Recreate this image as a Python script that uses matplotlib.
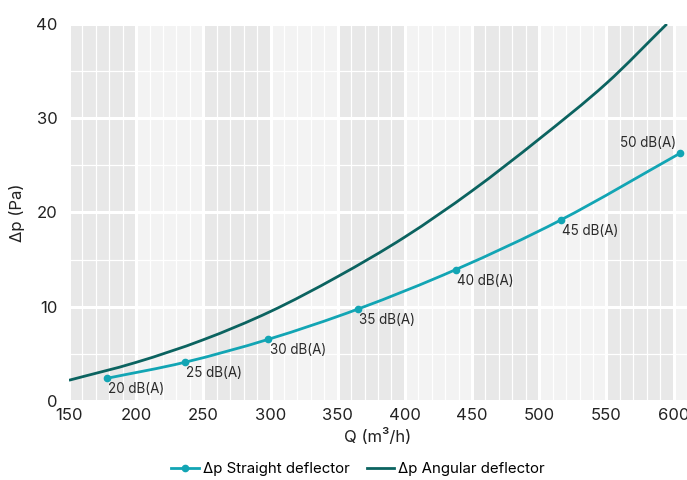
import numpy as np
import matplotlib
matplotlib.use("Agg")
import matplotlib.pyplot as plt
from matplotlib.path import Path
from matplotlib.patches import PathPatch
from matplotlib.lines import Line2D

plt.rcParams["font.family"] = ["Inter", "DejaVu Sans"]

# straight deflector: measured points with noise level labels
straight_q = [178, 236, 298.5, 365, 438, 516, 605]
straight_dp = [2.4, 4.1, 6.55, 9.75, 13.95, 19.2, 26.3]
straight_labels = ["20 dB(A)", "25 dB(A)", "30 dB(A)", "35 dB(A)",
                   "40 dB(A)", "45 dB(A)", "50 dB(A)"]

# angular deflector curve
angular_q = [150, 200, 250, 300, 350, 400, 450, 500, 550, 595]
angular_dp = [2.2, 4.1, 6.5, 9.5, 13.2, 17.4, 22.3, 27.8, 33.7, 40.0]

C_STRAIGHT = "#12a5b4"
C_ANGULAR = "#0b6360"
BAND_DARK = "#e8e8e8"
BAND_LIGHT = "#f3f3f3"


def smooth_path(x, y):
    """Cubic Hermite through the points, written as Bezier segments."""
    x = np.asarray(x, float)
    y = np.asarray(y, float)
    n = len(x)
    m = np.empty(n)
    m[0] = (y[1] - y[0]) / (x[1] - x[0])
    m[-1] = (y[-1] - y[-2]) / (x[-1] - x[-2])
    for i in range(1, n - 1):
        m[i] = (y[i + 1] - y[i - 1]) / (x[i + 1] - x[i - 1])
    verts = [(x[0], y[0])]
    codes = [Path.MOVETO]
    for i in range(n - 1):
        dx = (x[i + 1] - x[i]) / 3
        verts += [(x[i] + dx, y[i] + m[i] * dx),
                  (x[i + 1] - dx, y[i + 1] - m[i + 1] * dx),
                  (x[i + 1], y[i + 1])]
        codes += [Path.CURVE4] * 3
    return Path(verts, codes)


fig = plt.figure(figsize=(6.87, 4.80), dpi=100)
ax = fig.add_axes([0.1004, 0.1646, 0.8996, 0.7854])
ax.set_xlim(150, 610)
ax.set_ylim(0, 40)

# alternating vertical bands every 50 m3/h
for i, left in enumerate(range(150, 650, 50)):
    ax.axvspan(left, left + 50, color=BAND_DARK if i % 2 == 0 else BAND_LIGHT,
               lw=0, zorder=0)

ax.set_xticks(range(150, 601, 50))
ax.set_yticks(range(0, 41, 10))
ax.set_xticks(range(150, 611, 10), minor=True)
ax.set_yticks(range(0, 41, 5), minor=True)
ax.grid(which="major", color="white", lw=2.2, zorder=1)
ax.grid(which="minor", color="white", lw=0.9, zorder=1)
ax.set_axisbelow(True)
for s in ax.spines.values():
    s.set_visible(False)
ax.tick_params(which="both", length=0, labelsize=12, colors="#222222", pad=5)
ax.tick_params(axis="y", pad=8)

ax.add_patch(PathPatch(smooth_path(angular_q, angular_dp), fc="none",
                       ec=C_ANGULAR, lw=2, zorder=3, clip_on=True))
ax.add_patch(PathPatch(smooth_path(straight_q, straight_dp), fc="none",
                       ec=C_STRAIGHT, lw=2, zorder=4, clip_on=True))
ax.plot(straight_q, straight_dp, ls="none", marker="o", ms=4.5,
        color=C_STRAIGHT, zorder=5, clip_on=False)

for i, (q, dp, lab) in enumerate(zip(straight_q, straight_dp, straight_labels)):
    if i == len(straight_q) - 1:
        ax.annotate(lab, (q, dp), xytext=(-3, 7), textcoords="offset points",
                    ha="right", va="center", fontsize=9.7, color="#2a2a2a")
    else:
        ax.annotate(lab, (q, dp), xytext=(1, -8), textcoords="offset points",
                    ha="left", va="center", fontsize=9.7, color="#2a2a2a")

ax.set_xlabel("Q (m³/h)", fontsize=12, color="#222222", labelpad=4)
ax.set_ylabel("Δp (Pa)", fontsize=12, color="#222222", labelpad=8)

handles = [
    Line2D([], [], color=C_STRAIGHT, lw=2, marker="o", ms=4.5),
    Line2D([], [], color=C_ANGULAR, lw=2),
]
fig.legend(handles, ["Δp Straight deflector", "Δp Angular deflector"],
           loc="center", bbox_to_anchor=(0.521, 0.022), ncol=2, frameon=False,
           fontsize=10.8, handlelength=1.85, handletextpad=0.25,
           columnspacing=1.15)

fig.savefig("out.png", dpi=100)
